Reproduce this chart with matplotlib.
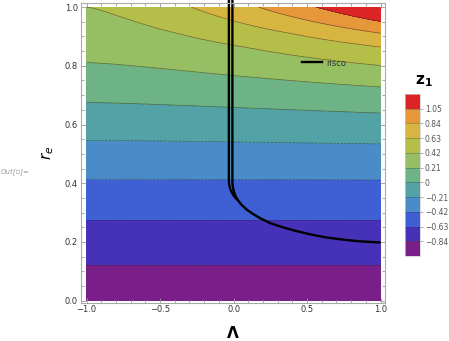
import numpy as np
import matplotlib
matplotlib.use("Agg")
import matplotlib.pyplot as plt
from matplotlib.colors import ListedColormap, BoundaryNorm
from matplotlib.lines import Line2D
from matplotlib.ticker import MultipleLocator, FuncFormatter

# ---- data ----
levels = [-1.05, -0.84, -0.63, -0.42, -0.21, 0.0, 0.21, 0.42, 0.63, 0.84, 1.05, 1.26]
band_colors = ["#7a1f8a", "#4632b8", "#3f5fd5", "#4a8cc8", "#52a2a6", "#6db385",
               "#95bf62", "#b6be4a", "#d8b540", "#e5973a", "#dd2424"]
tick_labels = ["\u22120.84", "\u22120.63", "\u22120.42", "\u22120.21", "0",
               "0.21", "0.42", "0.63", "0.84", "1.05"]

# z at Lambda = -1 (left edge) : r positions of the contour levels
r_left = [0.0, 0.123, 0.276, 0.414, 0.546, 0.675, 0.811, 1.0]
z_left = [-1.01, -0.84, -0.63, -0.42, -0.21, 0.0, 0.21, 0.42]
# z at Lambda = +1 (right edge)
r_right = [0.0, 0.123, 0.276, 0.411, 0.534, 0.639, 0.728, 0.801, 0.864, 0.911, 0.951, 1.0]
z_right = [-1.01, -0.84, -0.63, -0.42, -0.21, 0.0, 0.21, 0.42, 0.63, 0.84, 1.05, 1.31]
shape_power = 1.4

# r_isco curve (main branch) and second branch
isco_lam = [-0.008, -0.008, -0.006, 0.0, 0.010, 0.028, 0.055, 0.09, 0.13, 0.18, 0.25, 0.34,
            0.42, 0.52, 0.633, 0.76, 0.86, 1.0]
isco_r = [1.03, 0.405, 0.39, 0.375, 0.36, 0.343, 0.326, 0.31, 0.296, 0.281, 0.264, 0.249,
          0.238, 0.226, 0.215, 0.207, 0.202, 0.198]
branch_lam = [-0.032, -0.032, -0.030, -0.024, -0.014, -0.002, 0.012, 0.028]
branch_r = [1.03, 0.41, 0.395, 0.382, 0.37, 0.36, 0.35, 0.343]

# ---- figure ----
W, H = 449, 341
fig = plt.figure(figsize=(W / 100, H / 100), dpi=100)
ax = fig.add_axes([80.7 / W, (H - 302.7) / H, (385 - 80.7) / W, 300 / H])

lam = np.linspace(-1, 1, 500)
rr = np.linspace(0, 1, 500)
L, R = np.meshgrid(lam, rr)
zl = np.interp(R, r_left, z_left)
zr = np.interp(R, r_right, z_right)
w = ((1 + L) / 2) ** shape_power
Z = zl + (zr - zl) * w

lv = list(levels[:-1]) + [1.6]
ax.contourf(L, R, Z, levels=lv, colors=band_colors)
ax.contour(L, R, Z, levels=levels[1:-1], colors="#202020", linewidths=0.5, alpha=0.55)

ax.plot(isco_lam, isco_r, color="black", lw=1.7, clip_on=False, solid_capstyle="butt")
ax.plot(branch_lam, branch_r, color="black", lw=1.7, clip_on=False, solid_capstyle="butt")

ax.set_xlim(-1.04, 1.03)
ax.set_ylim(-0.007, 1.015)
ax.xaxis.set_major_locator(MultipleLocator(0.5))
ax.xaxis.set_minor_locator(MultipleLocator(0.1))
ax.yaxis.set_major_locator(MultipleLocator(0.2))
ax.yaxis.set_minor_locator(MultipleLocator(0.05))
ax.xaxis.set_major_formatter(FuncFormatter(
    lambda v, p: ("%.1f" % v).replace("-", "\u2212")))
ax.yaxis.set_major_formatter(FuncFormatter(lambda v, p: "%.1f" % v))
ax.tick_params(which="both", direction="in", top=True, right=True,
               color="#999999", labelsize=6, labelcolor="#333333", width=0.6)
ax.tick_params(which="major", length=3.5, pad=2)
ax.tick_params(which="minor", length=2)
for s in ax.spines.values():
    s.set_color("#aaaaaa")
    s.set_linewidth(0.8)

# legend
ax.add_line(Line2D([0.7265, 0.7922], [0.801, 0.801], transform=ax.transAxes,
                   color="black", lw=1.7))
ax.text(0.806, 0.799, "risco", transform=ax.transAxes, fontsize=6,
        color="#333333", va="center", ha="left")

# axis labels
fig.text(233 / W, 1 - 333 / H, "\u039b", fontsize=11, fontweight="bold",
         ha="center", va="center")
fig.text(48 / W, 1 - 153 / H, r"$\boldsymbol{r_e}$", fontsize=11, rotation=90,
         ha="center", va="center")
fig.text(1 / W, 1 - 172 / H, "Out[\u25ab]=", fontsize=5, color="#999999",
         style="italic", ha="left", va="center")

# colorbar
cax = fig.add_axes([405.3 / W, (H - 256) / H, 14.7 / W, 162 / H])
cmap = ListedColormap(band_colors)
norm = BoundaryNorm(levels, cmap.N)
sm = matplotlib.cm.ScalarMappable(norm=norm, cmap=cmap)
cb = fig.colorbar(sm, cax=cax, ticks=levels[1:-1], spacing="uniform")
for lv_ in levels[1:-1]:
    cax.axhline(lv_, color="#333333", lw=0.4, alpha=0.5)
cb.outline.set_edgecolor("#cccccc")
cb.outline.set_linewidth(0.5)
cb.ax.set_yticklabels(tick_labels)
cb.ax.tick_params(labelsize=5.5, labelcolor="#555555", color="#999999",
                  length=2.5, width=0.6, pad=1)
cb.ax.minorticks_off()
fig.text(424 / W, 1 - 81 / H, r"$\mathbf{z_1}$", fontsize=11, ha="center",
         va="center")

fig.savefig("out.png", dpi=100)
